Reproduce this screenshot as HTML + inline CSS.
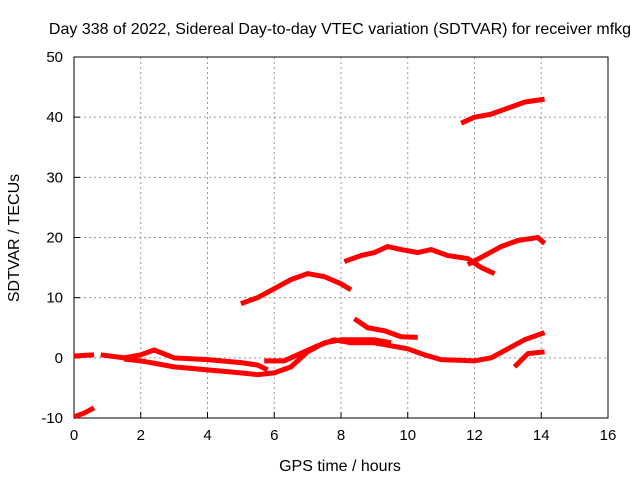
<!DOCTYPE html>
<html><head><meta charset="utf-8"><style>
body{margin:0;background:#fff}
svg text{font-family:"Liberation Sans",sans-serif;font-size:15px;fill:#000}
svg text.big{font-size:16px}
</style></head><body>
<svg id="c" width="640" height="480"></svg>
<script>
const xTicks=[0,2,4,6,8,10,12,14,16];
const yTicks=[-10,0,10,20,30,40,50];
const sA_t=[0,0.3,0.6], sA_v=[0.3,0.4,0.5];
const sB_t=[0,0.3,0.6], sB_v=[-9.8,-9.2,-8.3];
const sC_t=[0.8,1.5,2,2.4,3,4,5,5.5,5.8], sC_v=[0.5,0,0.5,1.3,0,-0.3,-0.8,-1.2,-2];
const sD_t=[1.5,2,3,4,5,5.5,6,6.5,7,7.5,8,9,9.5], sD_v=[-0.2,-0.5,-1.5,-2,-2.5,-2.8,-2.5,-1.5,1,2.5,3,3,2.5];
const sE_t=[5.7,6.3,6.7,7.3,7.8,8.3,9,9.5,10,10.5,11,12,12.5,13,13.5,14.1], sE_v=[-0.5,-0.5,0.5,2,3,2.5,2.5,2,1.5,0.5,-0.3,-0.5,0,1.5,3,4.2];
const sF_t=[13.2,13.6,14.1], sF_v=[-1.5,0.7,1];
const sG_t=[8.4,8.8,9.3,9.8,10.3], sG_v=[6.5,5,4.5,3.5,3.4];
const sH_t=[5,5.5,6,6.5,7,7.5,8,8.3], sH_v=[9,10,11.5,13,14,13.5,12.3,11.3];
const sI_t=[8.1,8.6,9,9.4,9.8,10.3,10.7,11.2,11.8,12.2,12.6], sI_v=[16,17,17.5,18.5,18,17.5,18,17,16.5,15,14];
const sJ_t=[11.8,12.3,12.8,13.3,13.9,14.1], sJ_v=[15.5,17,18.5,19.5,20,19];
const sK_t=[11.6,12,12.5,13,13.5,14.1], sK_v=[39,40,40.5,41.5,42.5,43];
const series=[[sA_t,sA_v],[sB_t,sB_v],[sC_t,sC_v],[sD_t,sD_v],[sE_t,sE_v],[sF_t,sF_v],[sG_t,sG_v],[sH_t,sH_v],[sI_t,sI_v],[sJ_t,sJ_v],[sK_t,sK_v]];
const L=74,R=608,T=57,B=418;
const X=t=>L+(t-0)/16*(R-L);
const Y=v=>B-(v+10)/60*(B-T);
const svg=document.getElementById('c');
const NS='http://www.w3.org/2000/svg';
function mk(tag,attrs,txt){const e=document.createElementNS(NS,tag);for(const k in attrs)e.setAttribute(k,attrs[k]);if(txt!==undefined)e.textContent=txt;svg.appendChild(e);return e;}
xTicks.forEach(t=>{
 const x=X(t);
 if(t>0&&t<16){const g=mk('line',{x1:x,x2:x,y1:T,y2:B,stroke:'#999','stroke-dasharray':'2,3'});
 
 }
 const tk=mk('line',{x1:x,x2:x,y1:B,y2:B-6,stroke:'#000'});
 
 
 const tx=mk('text',{x:x,y:B+22,'text-anchor':'middle'},t);
 
 
});
yTicks.forEach(v=>{
 const y=Y(v);
 if(v>-10&&v<50){const g=mk('line',{x1:L,x2:R,y1:y,y2:y,stroke:'#999','stroke-dasharray':'2,3'});
 
 }
 const tk=mk('line',{x1:L,x2:L+6,y1:y,y2:y,stroke:'#000'});
 
 
 const tx=mk('text',{x:L-11,y:y+5,'text-anchor':'end'},v);
 
 
});
const fr=mk('rect',{x:L,y:T,width:R-L,height:B-T,fill:'none',stroke:'#000'});


series.forEach(([ts,vs])=>{
 const p=mk('polyline',{points:ts.map((t,i)=>X(t)+','+Y(vs[i])).join(' '),fill:'none',stroke:'#f00','stroke-width':5,'stroke-linejoin':'round'});
 
 
});
const ti=mk('text',{x:340,y:34,'text-anchor':'middle',class:'big'},'Day 338 of 2022, Sidereal Day-to-day VTEC variation (SDTVAR) for receiver mfkg');


const xl=mk('text',{x:340,y:471,'text-anchor':'middle',class:'big'},'GPS time / hours');


const yl=mk('text',{x:19,y:238,'text-anchor':'middle',class:'big',transform:'rotate(-90 19 238)'},'SDTVAR / TECUs');


</script>
</body></html>
